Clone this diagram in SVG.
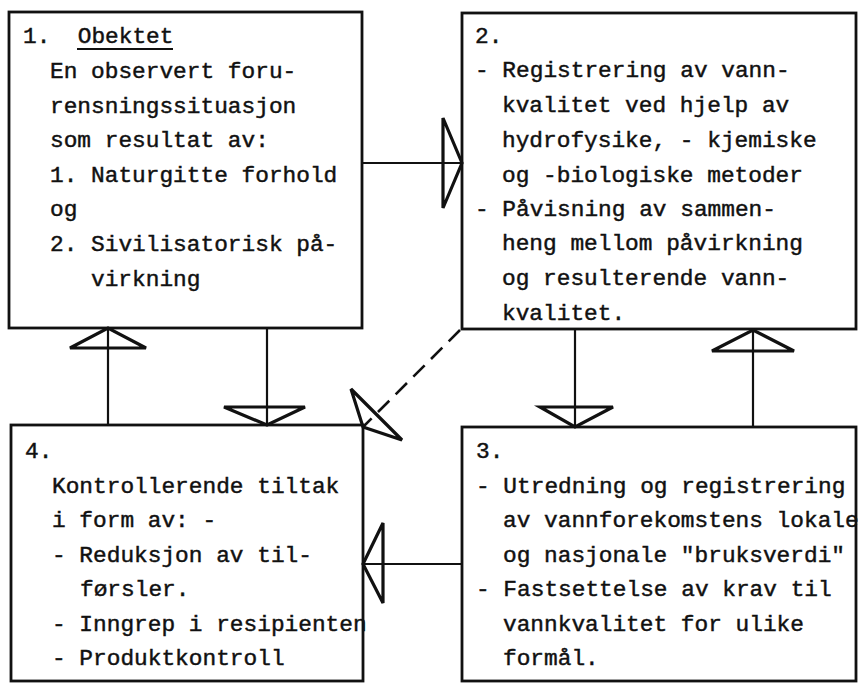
<svg xmlns="http://www.w3.org/2000/svg" width="858" height="683" viewBox="0 0 858 683">
<style>
.box{fill:none;stroke:#111;stroke-width:2.8}
.ln{fill:none;stroke:#111;stroke-width:2.2}
.ah{fill:none;stroke:#111;stroke-width:3.2;stroke-linejoin:miter}
.dash{fill:none;stroke:#111;stroke-width:2.6;stroke-dasharray:16 9}
text{font-family:"Liberation Mono","DejaVu Sans Mono",monospace;font-size:22.8px;fill:#111;stroke:#111;stroke-width:0.45;white-space:pre}
</style>
<rect width="858" height="683" fill="#fff"/>
<g id="node1">
<rect class="box" x="9" y="12" width="353" height="316"/>
<text x="23" y="43" xml:space="preserve">1.  Obektet</text>
<line x1="77" y1="49" x2="173" y2="49" stroke="#111" stroke-width="2"/>
<text x="50" y="78">En observert foru-</text>
<text x="50" y="113">rensningssituasjon</text>
<text x="50" y="147">som resultat av:</text>
<text x="50" y="182">1. Naturgitte forhold</text>
<text x="50" y="216">og</text>
<text x="50" y="251">2. Sivilisatorisk på-</text>
<text x="91" y="286">virkning</text>
</g>
<g id="node2">
<rect class="box" x="462" y="13" width="394" height="316"/>
<text x="475" y="43">2.</text>
<text x="475" y="77">- Registrering av vann-</text>
<text x="502" y="112">kvalitet ved hjelp av</text>
<text x="502" y="147">hydrofysike, - kjemiske</text>
<text x="502" y="182">og -biologiske metoder</text>
<text x="475" y="216">- Påvisning av sammen-</text>
<text x="502" y="250">heng mellom påvirkning</text>
<text x="502" y="285">og resulterende vann-</text>
<text x="502" y="320">kvalitet.</text>
</g>
<g id="node3">
<rect class="box" x="462" y="427" width="394" height="254"/>
<text x="476" y="458">3.</text>
<text x="476" y="493">- Utredning og registrering</text>
<text x="503" y="527">av vannforekomstens lokale</text>
<text x="503" y="562">og nasjonale "bruksverdi"</text>
<text x="476" y="596">- Fastsettelse av krav til</text>
<text x="503" y="631">vannkvalitet for ulike</text>
<text x="503" y="665">formål.</text>
</g>
<g id="node4">
<rect class="box" x="11" y="425" width="352" height="256"/>
<text x="25" y="458">4.</text>
<text x="52" y="493">Kontrollerende tiltak</text>
<text x="52" y="527">i form av: -</text>
<text x="52" y="562">- Reduksjon av til-</text>
<text x="80" y="596">førsler.</text>
<text x="52" y="631">- Inngrep i resipienten</text>
<text x="52" y="665">- Produktkontroll</text>
</g>
<g id="connectors">
<line class="ln" x1="362" y1="163" x2="462" y2="163"/>
<polygon class="ah" points="443,118 462,163 443,208"/>
<line class="ln" x1="267" y1="328" x2="267" y2="425"/>
<polygon class="ah" points="224,407 305,407 267,425"/>
<line class="ln" x1="108" y1="425" x2="108" y2="328"/>
<polygon class="ah" points="70,348 146,348 108,328"/>
<line class="ln" x1="575" y1="329" x2="575" y2="427"/>
<polygon class="ah" points="540,407 613,407 575,427"/>
<line class="ln" x1="753" y1="427" x2="753" y2="330"/>
<polygon class="ah" points="712,351 794,351 753,330"/>
<line class="ln" x1="462" y1="564" x2="363" y2="564"/>
<polygon class="ah" points="383,523 383,603 363,564"/>
<line class="dash" x1="460" y1="330" x2="363" y2="427"/>
<polygon class="ah" points="351,389 402,440 363,427"/>
</g>
</svg>
